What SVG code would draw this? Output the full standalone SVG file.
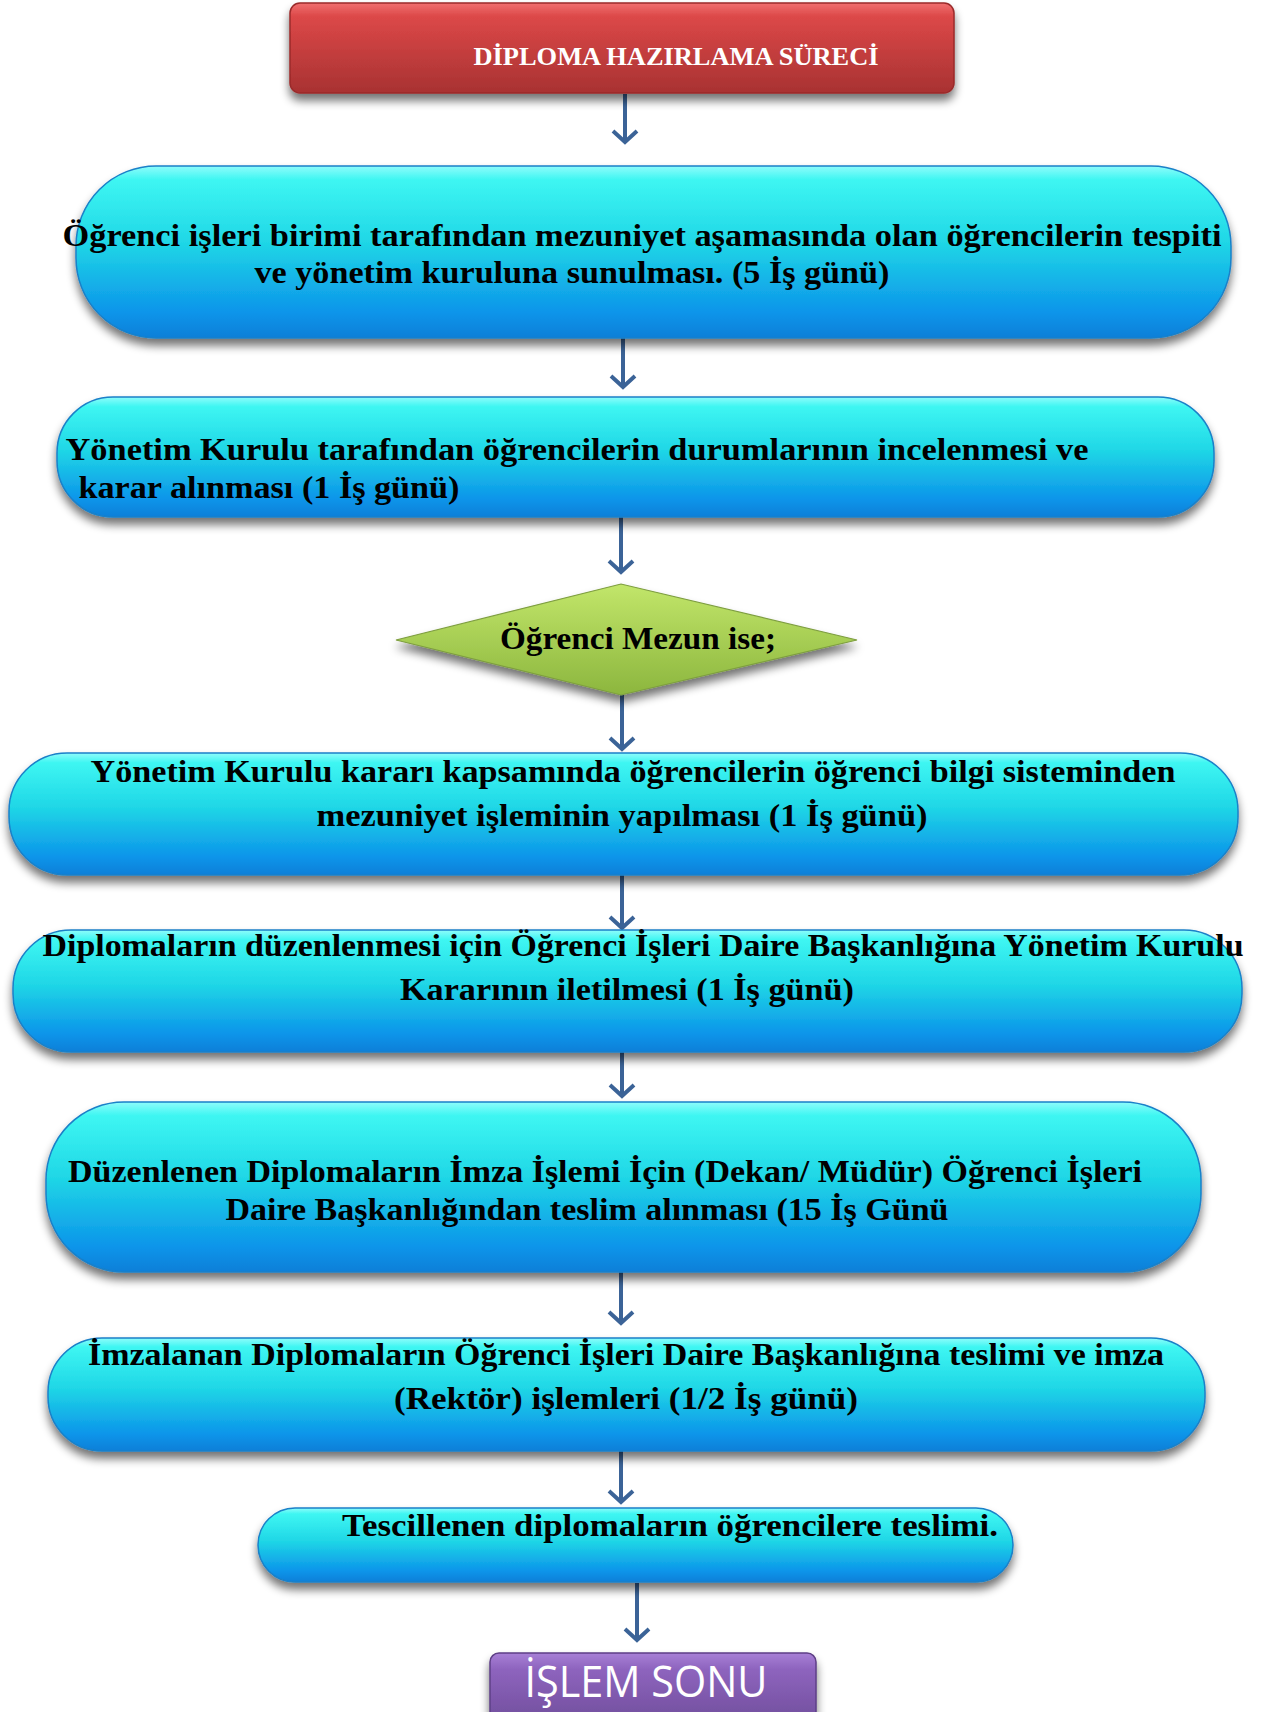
<svg xmlns="http://www.w3.org/2000/svg" width="1264" height="1712" viewBox="0 0 1264 1712">
  <defs>
    <linearGradient id="gBlue" x1="0" y1="0" x2="0" y2="1">
      <stop offset="0" stop-color="#8ffcfb"/>
      <stop offset="0.08" stop-color="#3ef6f2"/>
      <stop offset="0.45" stop-color="#1fd6e6"/>
      <stop offset="0.85" stop-color="#0c95ea"/>
      <stop offset="1" stop-color="#0a7fd8"/>
    </linearGradient>
    <linearGradient id="gRed" x1="0" y1="0" x2="0" y2="1">
      <stop offset="0" stop-color="#f07070"/>
      <stop offset="0.15" stop-color="#dc4848"/>
      <stop offset="1" stop-color="#a83232"/>
    </linearGradient>
    <linearGradient id="gGreen" x1="0" y1="0" x2="0" y2="1">
      <stop offset="0" stop-color="#c2e66a"/>
      <stop offset="1" stop-color="#8cb63e"/>
    </linearGradient>
    <linearGradient id="gPurple" x1="0" y1="0" x2="0" y2="1">
      <stop offset="0" stop-color="#a880d6"/>
      <stop offset="0.2" stop-color="#8e64be"/>
      <stop offset="1" stop-color="#6b4a96"/>
    </linearGradient>
    <filter id="shadow" x="-10%" y="-20%" width="120%" height="150%">
      <feGaussianBlur in="SourceAlpha" stdDeviation="5"/>
      <feOffset dx="0" dy="7" result="b"/>
      <feComponentTransfer><feFuncA type="linear" slope="0.55"/></feComponentTransfer>
      <feMerge><feMergeNode/><feMergeNode in="SourceGraphic"/></feMerge>
    </filter>
    <!-- open chevron arrowhead, drawn along +x so orient="auto" turns it with the line -->
    <marker id="chev" viewBox="0 0 16 28" markerWidth="16" markerHeight="28" refX="13" refY="14" orient="auto" markerUnits="userSpaceOnUse">
      <path d="M2,2 L13,14 L2,26" fill="none" stroke="#3b6397" stroke-width="4"/>
    </marker>
  </defs>
  <style>
    .box { fill: url(#gBlue); stroke: #1a80c8; stroke-width: 1.5; filter: url(#shadow); }
    .t { font-family: "Liberation Serif", "DejaVu Serif", serif; font-weight: bold; font-size: 31px; fill: #000; text-anchor: middle; }
    .c { fill: none; stroke: #3b6397; stroke-width: 4; }
  </style>

  <!-- connectors -->
  <g id="connectors">
    <line class="c" x1="625" y1="94" x2="625" y2="142" marker-end="url(#chev)"/>
    <line class="c" x1="623" y1="338" x2="623" y2="387" marker-end="url(#chev)"/>
    <line class="c" x1="621" y1="517" x2="621" y2="572" marker-end="url(#chev)"/>
    <line class="c" x1="622" y1="695" x2="622" y2="749" marker-end="url(#chev)"/>
    <line class="c" x1="622" y1="873" x2="622" y2="928" marker-end="url(#chev)"/>
    <line class="c" x1="622" y1="1037" x2="622" y2="1096" marker-end="url(#chev)"/>
    <line class="c" x1="621" y1="1266" x2="621" y2="1323" marker-end="url(#chev)"/>
    <line class="c" x1="621" y1="1450" x2="621" y2="1502" marker-end="url(#chev)"/>
    <line class="c" x1="637" y1="1583" x2="637" y2="1640" marker-end="url(#chev)"/>
  </g>

  <!-- start -->
  <g id="start">
    <rect x="290" y="3" width="664" height="90" rx="10" fill="url(#gRed)" stroke="#9a2a2a" stroke-width="1.5" filter="url(#shadow)"/>
    <text x="676" y="65" font-family="Liberation Serif, DejaVu Serif, serif" font-weight="bold" font-size="26" fill="#fff" text-anchor="middle" textLength="405" lengthAdjust="spacingAndGlyphs">DİPLOMA HAZIRLAMA SÜRECİ</text>
  </g>

  <!-- step 1 -->
  <g id="step1">
    <rect class="box" x="76" y="166" width="1155" height="172" rx="80"/>
    <text class="t" x="642" y="246" textLength="1159" lengthAdjust="spacingAndGlyphs">Öğrenci işleri birimi tarafından mezuniyet aşamasında olan öğrencilerin tespiti</text>
    <text class="t" x="572" y="283" textLength="635" lengthAdjust="spacingAndGlyphs">ve yönetim kuruluna sunulması. (5 İş günü)</text>
  </g>

  <!-- step 2 -->
  <g id="step2">
    <rect class="box" x="57" y="397" width="1157" height="120" rx="56"/>
    <text class="t" x="577" y="460" textLength="1023" lengthAdjust="spacingAndGlyphs">Yönetim Kurulu tarafından öğrencilerin  durumlarının incelenmesi ve</text>
    <text class="t" x="269" y="498" textLength="381" lengthAdjust="spacingAndGlyphs">karar alınması (1 İş günü)</text>
  </g>

  <!-- decision -->
  <g id="decision">
    <polygon points="396,640 621,584 857,640 621,695" fill="url(#gGreen)" stroke="#7e9e40" stroke-width="1.2" filter="url(#shadow)"/>
    <text class="t" x="638" y="649" textLength="276" lengthAdjust="spacingAndGlyphs">Öğrenci Mezun ise;</text>
  </g>

  <!-- step 3 -->
  <g id="step3">
    <rect class="box" x="9" y="753" width="1229" height="122" rx="58"/>
    <text class="t" x="633" y="782" textLength="1085" lengthAdjust="spacingAndGlyphs">Yönetim Kurulu kararı kapsamında öğrencilerin öğrenci bilgi sisteminden</text>
    <text class="t" x="622" y="826" textLength="611" lengthAdjust="spacingAndGlyphs">mezuniyet işleminin yapılması (1 İş günü)</text>
  </g>

  <!-- step 4 -->
  <g id="step4">
    <rect class="box" x="13" y="930" width="1229" height="122" rx="58"/>
    <text class="t" x="643" y="956" textLength="1201" lengthAdjust="spacingAndGlyphs">Diplomaların düzenlenmesi için Öğrenci İşleri Daire Başkanlığına Yönetim Kurulu</text>
    <text class="t" x="627" y="1000" textLength="454" lengthAdjust="spacingAndGlyphs">Kararının iletilmesi (1 İş günü)</text>
  </g>

  <!-- step 5 -->
  <g id="step5">
    <rect class="box" x="46" y="1102" width="1155" height="170" rx="78"/>
    <text class="t" x="605" y="1182" textLength="1074" lengthAdjust="spacingAndGlyphs">Düzenlenen Diplomaların İmza İşlemi İçin (Dekan/ Müdür) Öğrenci İşleri</text>
    <text class="t" x="587" y="1220" textLength="723" lengthAdjust="spacingAndGlyphs">Daire Başkanlığından teslim alınması (15 İş Günü</text>
  </g>

  <!-- step 6 -->
  <g id="step6">
    <rect class="box" x="48" y="1338" width="1157" height="113" rx="54"/>
    <text class="t" x="626" y="1365" textLength="1076" lengthAdjust="spacingAndGlyphs">İmzalanan Diplomaların Öğrenci İşleri Daire Başkanlığına teslimi ve imza</text>
    <text class="t" x="626" y="1409" textLength="464" lengthAdjust="spacingAndGlyphs">(Rektör) işlemleri (1/2 İş günü)</text>
  </g>

  <!-- step 7 -->
  <g id="step7">
    <rect class="box" x="258" y="1508" width="755" height="74" rx="37"/>
    <text class="t" x="670" y="1536" textLength="656" lengthAdjust="spacingAndGlyphs">Tescillenen diplomaların öğrencilere teslimi.</text>
  </g>

  <!-- end -->
  <g id="end">
    <rect x="490" y="1653" width="326" height="80" rx="9" fill="url(#gPurple)" stroke="#5e3f86" stroke-width="1.5" filter="url(#shadow)"/>
    <text x="646" y="1697" font-family="Open Sans, Liberation Sans, sans-serif" font-size="44" fill="#fff" text-anchor="middle" textLength="243" lengthAdjust="spacingAndGlyphs">İŞLEM SONU</text>
  </g>
</svg>
